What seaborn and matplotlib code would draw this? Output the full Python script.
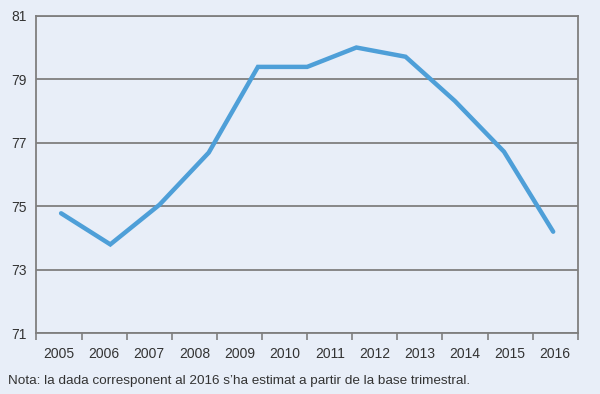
import matplotlib
matplotlib.use("Agg")
import matplotlib.pyplot as plt
import seaborn as sns
import pandas as pd
import numpy as np

years = ["2005", "2006", "2007", "2008", "2009", "2010",
         "2011", "2012", "2013", "2014", "2015", "2016"]
# line values as drawn in the source (11 vertices spread across the plot)
line_values = [74.78, 73.80, 75.05, 76.69, 79.39, 79.39, 80.00, 79.71, 78.32, 76.72, 74.20]
y_ticks = [71, 73, 75, 77, 79, 81]
note = "Nota: la dada corresponent al 2016 s\u2019ha estimat a partir de la base trimestral."

sns.set_theme(style="white")
plt.rcParams['font.family'] = ['Liberation Sans', 'DejaVu Sans']

bg = "#E8EEF8"
line_color = "#4E9FD8"
axis_color = "#7F7F7F"
text_color = "#333333"
tick_font = ['Liberation Sans', 'DejaVu Sans']

fig = plt.figure(figsize=(6.0, 3.94), dpi=100, facecolor=bg)
ax = fig.add_axes([0.0608, 0.154, 0.963 - 0.0608, 0.960 - 0.154])
ax.set_facecolor(bg)

# category axis (12 years)
ax.set_xlim(-0.5, len(years) - 0.5)
ax.set_ylim(y_ticks[0], y_ticks[-1])
ax.set_yticks(y_ticks)
ax.set_yticklabels([str(v) for v in y_ticks], fontsize=10, color=text_color, family=tick_font)
ax.set_xticks(np.arange(len(years)))
ax.set_xticklabels(years, fontsize=10, color=text_color, family=tick_font)
ax.set_xticks(np.arange(len(years) + 1) - 0.5, minor=True)
ax.tick_params(axis='x', which='major', length=0, pad=10)
ax.tick_params(axis='x', which='minor', length=5, width=1.2, color=axis_color, direction='out')
ax.tick_params(axis='y', length=5, width=1.2, color=axis_color, direction='out', pad=2)

ax.yaxis.grid(True, color=axis_color, lw=1.3, zorder=1.5)
ax.set_axisbelow(True)
for s in ax.spines.values():
    s.set_visible(True)
    s.set_color(axis_color)
    s.set_linewidth(1.3)

# line layer
ax2 = ax.twiny()
df = pd.DataFrame({"idx": np.arange(len(line_values)), "value": line_values})
sns.lineplot(data=df, x="idx", y="value", ax=ax2, color=line_color, lw=3.2,
             solid_capstyle="round", solid_joinstyle="miter", zorder=3)
ax2.set_xlim(-0.5, len(line_values) - 0.5)
ax2.set_ylim(y_ticks[0], y_ticks[-1])
ax2.set_xticks([])
ax2.set_xlabel("")
ax2.set_ylabel("")
for s in ax2.spines.values():
    s.set_visible(False)
ax.set_xlabel("")
ax.set_ylabel("")

fig.text(8 / 600, 1 - 381 / 394, note, fontsize=9.7, color=text_color, va="center", ha="left",
         family=tick_font)

fig.savefig("out.png", dpi=100, facecolor=bg)
